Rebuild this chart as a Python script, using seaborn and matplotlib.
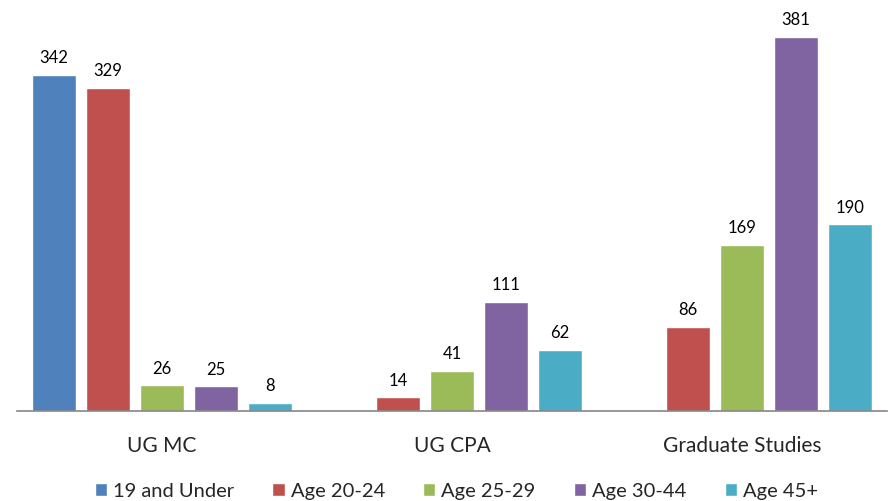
import numpy as np
import pandas as pd
import seaborn as sns
import matplotlib.pyplot as plt

# categories and series
programs = ['UG MC', 'UG CPA', 'Graduate Studies']
age_groups = ['19 and Under', 'Age 20-24', 'Age 25-29', 'Age 30-44', 'Age 45+']
under_19 = [342, np.nan, np.nan]
age_20_24 = [329, 14, 86]
age_25_29 = [26, 41, 169]
age_30_44 = [25, 111, 381]
age_45_plus = [8, 62, 190]

palette = ['#4F81BD', '#C0504D', '#9BBB59', '#8064A2', '#4BACC6']

# long format for seaborn
rows = []
for grp, vals in zip(age_groups, [under_19, age_20_24, age_25_29, age_30_44, age_45_plus]):
    for prog, v in zip(programs, vals):
        rows.append({'program': prog, 'age': grp, 'count': v})
df = pd.DataFrame(rows)

sns.set_style('white')
plt.rcParams['font.family'] = ['Lato', 'DejaVu Sans']

fig = plt.figure(figsize=(8.88, 5.02), dpi=100)
ax = fig.add_axes([17 / 888, 90 / 502, 870 / 888, 393 / 502])

sns.barplot(data=df, x='program', y='count', hue='age', order=programs,
            hue_order=age_groups, palette=palette, width=0.93, gap=0.18,
            saturation=1, ax=ax, legend=True)

# value labels on top of each bar
for container in ax.containers:
    labels = ['' if np.isnan(v) or v == 0 else f'{int(v)}' for v in container.datavalues]
    ax.bar_label(container, labels=labels, padding=7, fontsize=12, color='#000000')

ax.set_ylim(0, 400)
ax.set_xlim(-0.5, 2.5)
ax.set_xlabel('')
ax.set_ylabel('')
ax.set_yticks([])
ax.tick_params(axis='x', length=0, pad=17, labelsize=15)
for side in ['top', 'left', 'right']:
    ax.spines[side].set_visible(False)
ax.spines['bottom'].set_color('#868686')
ax.spines['bottom'].set_linewidth(1.2)

ax.legend(loc='upper center', bbox_to_anchor=(0.505, -0.156), ncol=5, frameon=False,
          fontsize=14.5, handlelength=0.6, handleheight=0.6, handletextpad=0.3,
          columnspacing=1.9, title=None, borderpad=0)

fig.savefig('out.png', dpi=100)
